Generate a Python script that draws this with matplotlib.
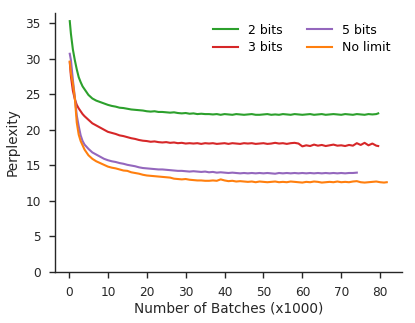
import numpy as np
import matplotlib
matplotlib.use("Agg")
import matplotlib.pyplot as plt

# x positions (thousands of batches)
x_early = [0.2, 0.5, 1.0, 1.5, 2.0, 2.5, 3.0, 3.5, 4.0, 5.0, 6.0, 7.0, 8.0, 9.0, 10.0]

x_2bits = x_early + list(range(11, 80)) + [79.5]
y_2bits = [35.3, 33.5, 31.3, 29.8, 28.5, 27.4, 26.7, 26.1, 25.7, 24.9, 24.4, 24.1, 23.9, 23.7, 23.5,
           23.35, 23.25, 23.1, 23.05, 22.95, 22.85, 22.8, 22.75, 22.7, 22.6,   # 11-20
           22.55, 22.6, 22.5, 22.5, 22.45, 22.4, 22.45, 22.35, 22.3, 22.35,    # 21-30
           22.25, 22.3, 22.2, 22.25, 22.2, 22.2, 22.15, 22.2, 22.1, 22.2,      # 31-40
           22.15, 22.1, 22.2, 22.15, 22.1, 22.15, 22.2, 22.1, 22.1, 22.15,     # 41-50
           22.2, 22.1, 22.15, 22.1, 22.2, 22.15, 22.1, 22.2, 22.15, 22.1,      # 51-60
           22.15, 22.2, 22.1, 22.15, 22.2, 22.1, 22.15, 22.2, 22.15, 22.1,     # 61-70
           22.2, 22.15, 22.1, 22.2, 22.15, 22.1, 22.2, 22.15, 22.2,            # 71-79
           22.3]

x_3bits = x_early + list(range(11, 80)) + [79.5]
y_3bits = [29.5, 27.5, 25.5, 24.3, 23.5, 23.0, 22.6, 22.2, 21.9, 21.4, 20.9, 20.6, 20.3, 20.0, 19.7,
           19.55, 19.4, 19.2, 19.1, 18.95, 18.8, 18.7, 18.55, 18.45, 18.4,
           18.3, 18.35, 18.25, 18.2, 18.25, 18.15, 18.2, 18.1, 18.15, 18.05,
           18.1, 18.05, 18.1, 18.0, 18.1, 18.05, 18.1, 18.0, 18.05, 18.1,
           18.0, 18.1, 18.05, 18.0, 18.1, 18.05, 18.1, 18.0, 18.05, 18.1,
           18.0, 18.05, 18.15, 18.05, 18.1, 18.0, 18.1, 18.15, 18.05, 17.65,
           17.8, 17.7, 17.9, 17.75, 17.85, 17.7, 17.8, 17.9, 17.75, 17.8,
           17.7, 17.85, 17.75, 18.1, 17.85, 18.15, 17.8, 18.05, 17.75,
           17.7]

x_5bits = x_early + list(range(11, 74)) + [74.0]
y_5bits = [30.7, 29.8, 27.0, 24.6, 22.0, 20.5, 19.2, 18.4, 17.9, 17.3, 16.8, 16.5, 16.2, 15.9, 15.7,
           15.55, 15.45, 15.3, 15.2, 15.05, 14.95, 14.85, 14.7, 14.6, 14.55,
           14.5, 14.45, 14.4, 14.4, 14.35, 14.3, 14.25, 14.2, 14.2, 14.15,
           14.1, 14.15, 14.1, 14.05, 14.1, 14.0, 14.05, 13.95, 14.0, 13.95,
           13.9, 13.95, 13.9, 13.85, 13.9, 13.85, 13.9, 13.85, 13.9, 13.85,
           13.9, 13.85, 13.8, 13.9, 13.85, 13.9, 13.85, 13.9, 13.85, 13.9,
           13.85, 13.9, 13.85, 13.9, 13.85, 13.9, 13.85, 13.9, 13.85, 13.9,
           13.85, 13.9, 13.9,
           13.95]

x_nolimit = x_early + list(range(11, 82)) + [81.7]
y_nolimit = [29.6, 28.0, 26.5, 24.5, 21.0, 19.3, 18.4, 17.8, 17.2, 16.4, 15.9, 15.55, 15.3, 15.05, 14.8,
             14.65, 14.55, 14.4, 14.25, 14.2, 14.0, 13.9, 13.8, 13.65, 13.55,
             13.5, 13.45, 13.4, 13.35, 13.3, 13.25, 13.1, 13.05, 13.0, 13.05,
             12.95, 12.9, 12.85, 12.85, 12.8, 12.8, 12.85, 12.8, 13.0, 12.85,
             12.75, 12.8, 12.7, 12.75, 12.7, 12.65, 12.7, 12.6, 12.7, 12.65,
             12.6, 12.65, 12.7, 12.6, 12.65, 12.6, 12.7, 12.65, 12.6, 12.55,
             12.65, 12.6, 12.7, 12.65, 12.55, 12.6, 12.65, 12.6, 12.7, 12.6,
             12.65, 12.6, 12.7, 12.75, 12.6, 12.55, 12.6, 12.65, 12.7, 12.6,
             12.55,
             12.6]

series = [("2 bits", x_2bits, y_2bits, "#2ca02c"),
          ("3 bits", x_3bits, y_3bits, "#d62728"),
          ("5 bits", x_5bits, y_5bits, "#9467bd"),
          ("No limit", x_nolimit, y_nolimit, "#ff7f0e")]

plt.rcParams['font.family'] = ['DejaVu Sans']
fig = plt.figure(figsize=(4.15, 3.23), dpi=100)
ax = fig.add_axes([0.1325, 0.159, 0.836, 0.802])

for name, xs, ys, c in series:
    ax.plot(xs, ys, color=c, lw=1.5, label=name)

ax.set_xlim(-3.6, 85.6)
ax.set_ylim(0, 36.5)
ax.set_xticks(np.arange(0, 81, 10))
ax.set_yticks(np.arange(0, 36, 5))

dark = "#262626"
for s in ["top", "right"]:
    ax.spines[s].set_visible(False)
for s in ["left", "bottom"]:
    ax.spines[s].set_color(dark)
    ax.spines[s].set_linewidth(1.0)
ax.tick_params(colors=dark, labelsize=8.7, length=4.3, width=1.0, pad=6)

ax.set_xlabel("Number of Batches (x1000)", fontsize=9.8, color=dark, labelpad=2)
ax.set_ylabel("Perplexity", fontsize=9.8, color=dark, labelpad=4)

ax.legend(ncol=2, frameon=False, fontsize=9.0, loc="upper right",
          bbox_to_anchor=(1.0, 1.0), columnspacing=2.0, handlelength=2.0,
          labelspacing=0.35)

fig.savefig("out.png", dpi=100)
